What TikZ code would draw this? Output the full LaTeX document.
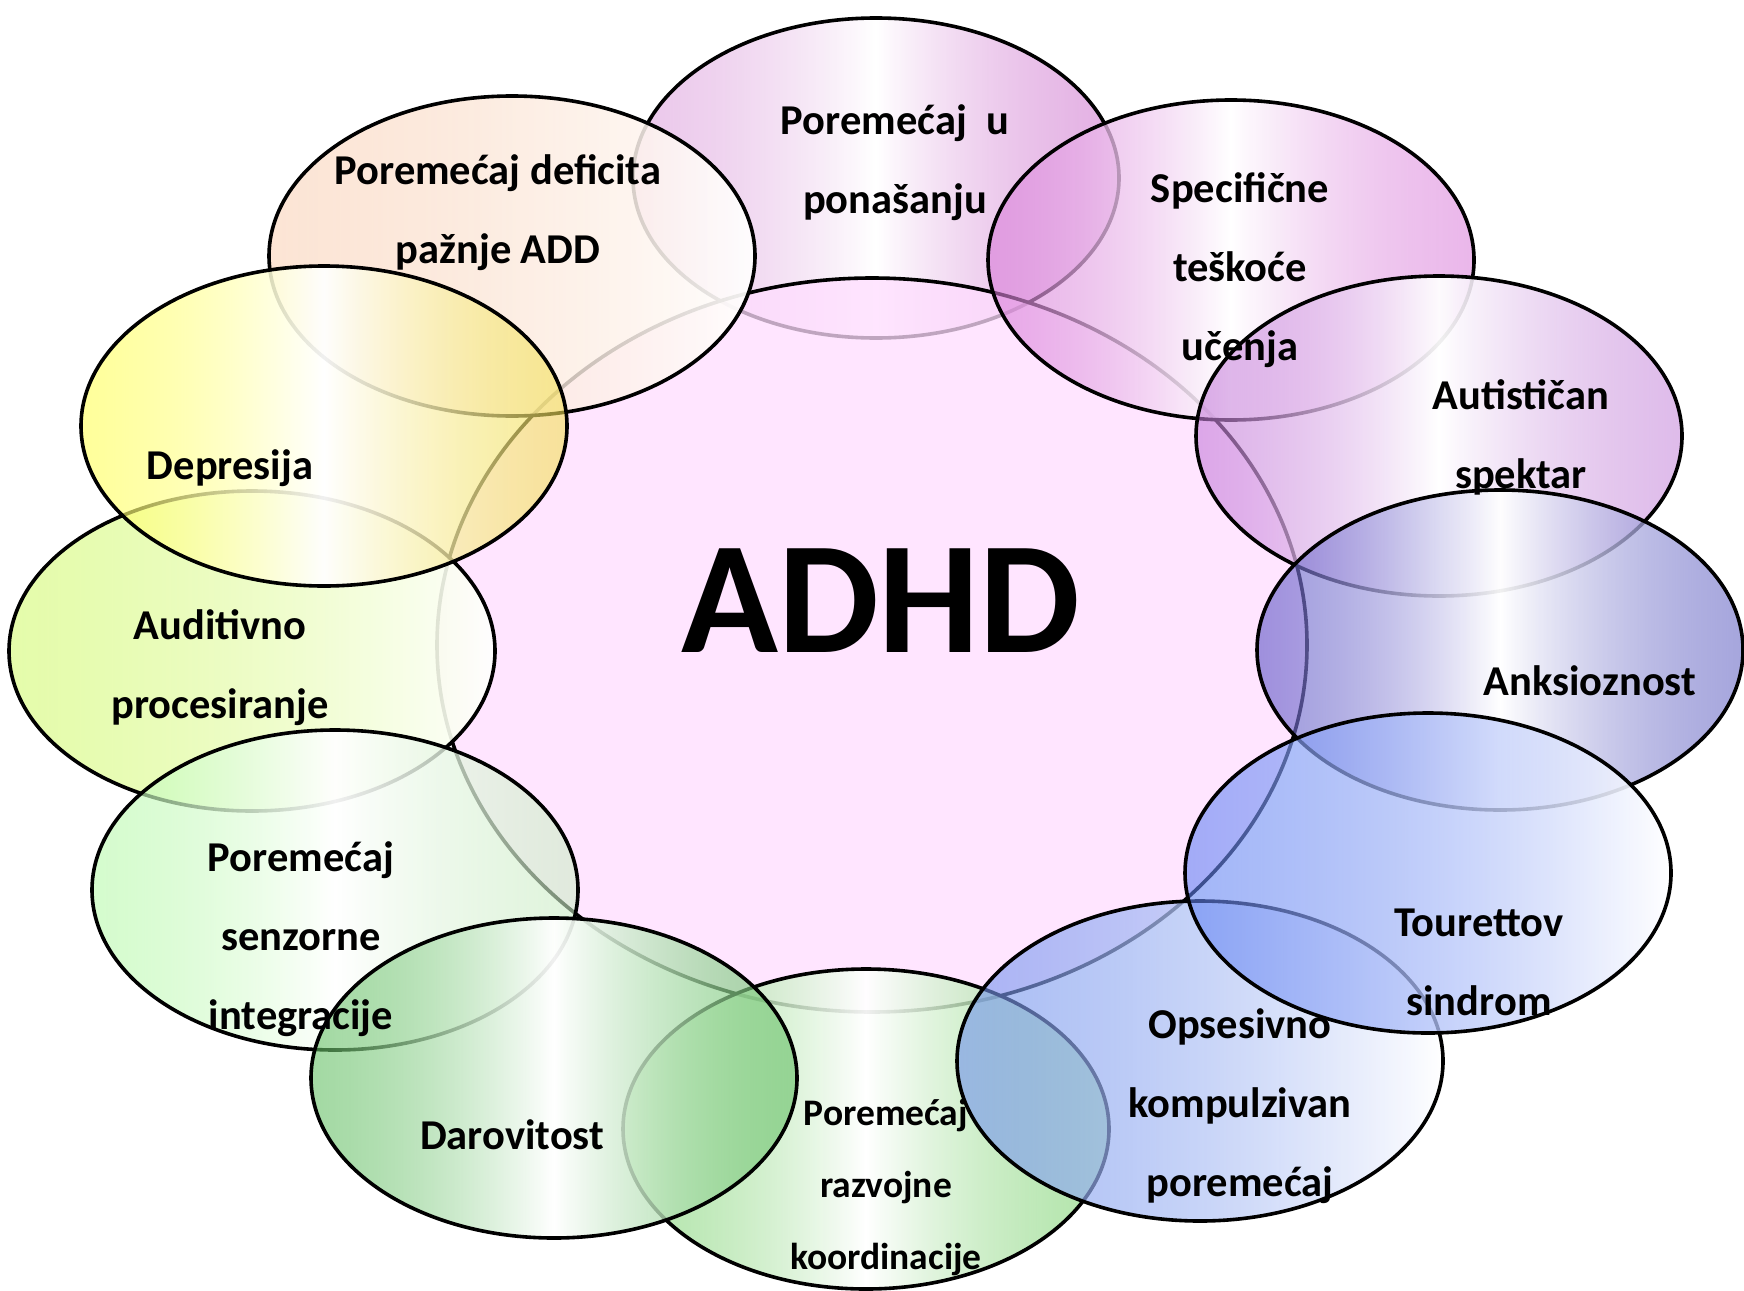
\documentclass[tikz,border=0pt]{standalone}
\usepackage{fontspec}
\setmainfont{Carlito}
\usetikzlibrary{shapes.geometric,fadings}

\tikzfading[name=fmid, left color=transparent!42, right color=transparent!42, middle color=transparent!6]
\tikzfading[name=fleft, left color=transparent!42, right color=transparent!6]

\definecolor{cPonL}{HTML}{DDA0DD}\definecolor{cPonR}{HTML}{D078D0}
\definecolor{cSpeL}{HTML}{D87AD8}\definecolor{cSpeR}{HTML}{DC84DC}
\definecolor{cAutL}{HTML}{C47AD9}\definecolor{cAutR}{HTML}{C88CDC}
\definecolor{cAnkL}{HTML}{5A53C5}\definecolor{cAnkR}{HTML}{6767C5}
\definecolor{cTou}{HTML}{6182F3}
\definecolor{cOps}{HTML}{6E8FED}
\definecolor{cRaz}{HTML}{7BD26E}
\definecolor{cDar}{HTML}{61BE61}
\definecolor{cSenL}{HTML}{B7FAAA}\definecolor{cSenR}{HTML}{CBEDC5}
\definecolor{cAud}{HTML}{D2FA6E}
\definecolor{cDepL}{HTML}{FFFF53}\definecolor{cDepR}{HTML}{F3DF53}
\definecolor{cAdd}{HTML}{FAD2B7}
\definecolor{cCen}{HTML}{FFDDFF}

\tikzset{
  bub/.style={ellipse, draw=black, line width=3.6pt, minimum width=486pt, minimum height=320pt, inner sep=0pt},
  bubmid/.style 2 args={bub, preaction={shade, left color=#1, right color=#2, middle color=white, path fading=fmid}},
  bubleft/.style={bub, preaction={shade, left color=#1, right color=white, path fading=fleft}},
  lab/.style={font=\bfseries\fontsize{42.5}{79}\selectfont, align=center, inner sep=0pt},
}

\begin{document}
\begin{tikzpicture}[x=1pt, y=-1pt]
\fill[white] (0,0) rectangle (1744,1290);
\path[use as bounding box] (0,0) rectangle (1744,1290);

% ellipses, bottom to top
\node[bubmid={cPonL}{cPonR}] (e1) at (876,178) {};
\node[ellipse, draw=black, line width=3.6pt, minimum width=870pt, minimum height=734pt, inner sep=0pt,
      preaction={fill=cCen, fill opacity=0.75}] (c0) at (872,645) {};
\node[bubleft=cAdd] (e12) at (512,256) {};
\node[bubmid={cSpeL}{cSpeR}] (e2) at (1231,260) {};
\node[bubmid={cAutL}{cAutR}] (e3) at (1439,436) {};
\node[bubmid={cAnkL}{cAnkR}] (e4) at (1500,650) {};
\node[bubmid={cRaz}{cRaz}] (e7) at (866,1129) {};
\node[bubleft=cOps] (e6) at (1200,1061) {};
\node[bubleft=cTou] (e5) at (1428,873) {};
\node[bubleft=cAud] (e10) at (252,651) {};
\node[bubmid={cSenL}{cSenR}] (e9) at (335,890) {};
\node[bubmid={cDar}{cDar}] (e8) at (554,1078) {};
\node[bubmid={cDepL}{cDepR}] (e11) at (324,426) {};

% labels
\node[font=\bfseries\fontsize{160}{160}\selectfont, inner sep=0pt] (t0) at (881,601) {ADHD};
\node[lab] (t1) at (895,163) {Poremećaj\ \ u\\ponašanju};
\node[lab] (t2) at (1240,270) {Specifične\\teškoće\\učenja};
\node[lab] (t3) at (1521,437) {Autističan\\spektar};
\node[lab] (t4) at (1590,681) {Anksioznost};
\node[lab] (t5) at (1479,962) {Tourettov\\sindrom};
\node[lab] (t6) at (1240,1106) {Opsesivno\\kompulzivan\\poremećaj};
\node[lab, font=\bfseries\fontsize{37.5}{72}\selectfont] (t7) at (886,1187) {Poremećaj\\razvojne\\koordinacije};
\node[lab] (t8) at (512,1135) {Darovitost};
\node[lab] (t9) at (301,939) {Poremećaj\\senzorne\\integracije};
\node[lab] (t10) at (220,668) {Auditivno\\procesiranje};
\node[lab] (t11) at (230,468) {Depresija};
\node[lab] (t12) at (498,213) {Poremećaj deficita\\pažnje ADD};
\end{tikzpicture}
\end{document}
